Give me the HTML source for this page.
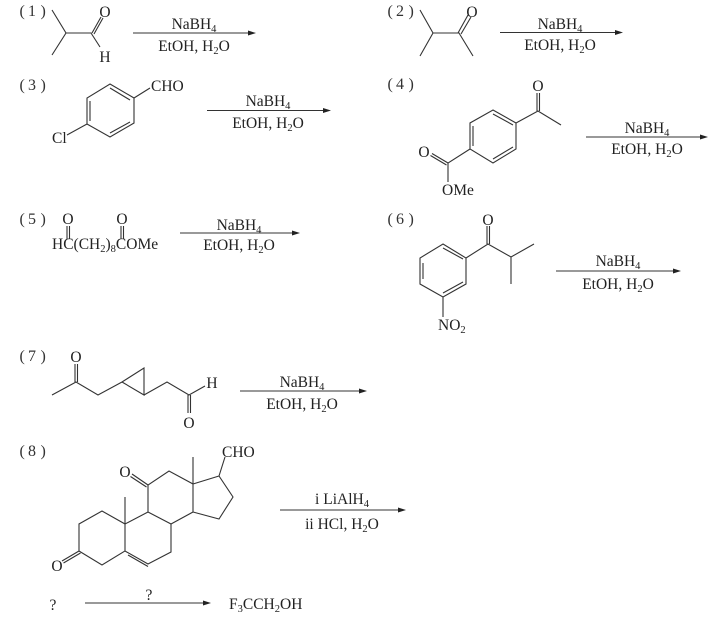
<!DOCTYPE html>
<html>
<head>
<meta charset="utf-8">
<style>
html,body{margin:0;padding:0;background:#fff;}
svg{display:block;}
text{font-family:"Liberation Serif","Noto Serif CJK SC",serif;font-size:15.5px;fill:#222;}
.m{text-anchor:middle;}
.n{font-size:16px;fill:#333;}
.s{font-size:10.5px;}
path,line{stroke:#333;stroke-width:1.1;fill:none;}
.a{fill:#222;stroke:none;}
</style>
</head>
<body>
<svg width="725" height="624" viewBox="0 0 725 624" xmlns="http://www.w3.org/2000/svg">
<!-- numbering -->
<text class="n" x="19.5 28 40.500" y="16">(1)</text>
<text class="n" x="387.500 396 408.500" y="16">(2)</text>
<text class="n" x="19.5 28 40.500" y="90">(3)</text>
<text class="n" x="387.500 396 408.500" y="89">(4)</text>
<text class="n" x="19.5 28 40.500" y="224">(5)</text>
<text class="n" x="387.500 396 408.500" y="224">(6)</text>
<text class="n" x="19.5 28 40.500" y="361">(7)</text>
<text class="n" x="19.5 28 40.500" y="456">(8)</text>

<!-- arrows -->
<path d="M133 33H250"/><path class="a" d="M256 33l-8-2.5v5z"/>
<path d="M500 32.500H617"/><path class="a" d="M623 32.500l-8-2.500v5z"/>
<path d="M207 110.500H325"/><path class="a" d="M331 110.500l-8-2.500v5z"/>
<path d="M586 137H702"/><path class="a" d="M708 137l-8-2.500v5z"/>
<path d="M180 233H294"/><path class="a" d="M300 233l-8-2.500v5z"/>
<path d="M556 271H675"/><path class="a" d="M681 271l-8-2.500v5z"/>
<path d="M240 391H361"/><path class="a" d="M367 391l-8-2.500v5z"/>
<path d="M280 510H400"/><path class="a" d="M406 510l-8-2.500v5z"/>
<path d="M85 603H205"/><path class="a" d="M211 603l-8-2.500v5z"/>

<!-- reagents -->
<text class="m" x="194" y="29">NaBH<tspan class="s" dy="3">4</tspan></text>
<text class="m" x="194" y="51">EtOH, H<tspan class="s" dy="3">2</tspan><tspan dy="-3">O</tspan></text>
<text class="m" x="560" y="29">NaBH<tspan class="s" dy="3">4</tspan></text>
<text class="m" x="560" y="50">EtOH, H<tspan class="s" dy="3">2</tspan><tspan dy="-3">O</tspan></text>
<text class="m" x="268" y="106">NaBH<tspan class="s" dy="3">4</tspan></text>
<text class="m" x="268" y="128">EtOH, H<tspan class="s" dy="3">2</tspan><tspan dy="-3">O</tspan></text>
<text class="m" x="647" y="133">NaBH<tspan class="s" dy="3">4</tspan></text>
<text class="m" x="647" y="154">EtOH, H<tspan class="s" dy="3">2</tspan><tspan dy="-3">O</tspan></text>
<text class="m" x="239" y="230">NaBH<tspan class="s" dy="3">4</tspan></text>
<text class="m" x="239" y="250">EtOH, H<tspan class="s" dy="3">2</tspan><tspan dy="-3">O</tspan></text>
<text class="m" x="618" y="266">NaBH<tspan class="s" dy="3">4</tspan></text>
<text class="m" x="618" y="289">EtOH, H<tspan class="s" dy="3">2</tspan><tspan dy="-3">O</tspan></text>
<text class="m" x="302" y="387">NaBH<tspan class="s" dy="3">4</tspan></text>
<text class="m" x="302" y="409">EtOH, H<tspan class="s" dy="3">2</tspan><tspan dy="-3">O</tspan></text>
<text class="m" x="342" y="504">i LiAlH<tspan class="s" dy="3">4</tspan></text>
<text class="m" x="342" y="529">ii HCl, H<tspan class="s" dy="3">2</tspan><tspan dy="-3">O</tspan></text>
<text class="m" x="149" y="600">?</text>
<text class="m" x="53" y="610">?</text>
<text x="229" y="609">F<tspan class="s" dy="3">3</tspan><tspan dy="-3">CCH</tspan><tspan class="s" dy="3">2</tspan><tspan dy="-3">OH</tspan></text>

<!-- molecule 1 -->
<path d="M52 10L66 33L52 55M66 33H91L100 47M92 33L101 17M94 34L103 18"/>
<text class="m" x="105" y="17">O</text>
<text class="m" x="105" y="62">H</text>

<!-- molecule 2 -->
<path d="M420 10L433 33L420 56M433 33H459L473 56M458 33L468 15M461 34L471 17"/>
<text class="m" x="472" y="17">O</text>

<!-- molecule 3 -->
<path d="M110 84L134 98V123L110 137L87 124V98ZM90 101V121M110 88L130 100M110 133L130 122M134 98L150 88M87 124L67 135"/>
<text x="151" y="91">CHO</text>
<text x="52" y="143">Cl</text>

<!-- molecule 4 -->
<path d="M493 110L516 123V149L493 163L470 149V123ZM473 126V146M493 114L513 125M493 159L513 147M516 123L538 111L561 125M537 111V93M539.500 111V93M470 149L448 163V182M448 163L432 153.500M446.500 165L430.500 155.500"/>
<text class="m" x="538" y="91">O</text>
<text class="m" x="424" y="157">O</text>
<text x="442" y="195">OMe</text>

<!-- molecule 5 -->
<text x="52" y="249">HC(CH<tspan class="s" dy="3">2</tspan><tspan dy="-3">)</tspan><tspan class="s" dy="3">8</tspan><tspan dy="-3">COMe</tspan></text>
<text class="m" x="68" y="224">O</text>
<text class="m" x="122" y="224">O</text>
<path d="M67 226V239M69.500 226V239M121 226V239M123.500 226V239"/>

<!-- molecule 6 -->
<path d="M443 244L466 258V284L443 297L420 284V258ZM423 263V279M443 248L463 259M443 293L463 282M466 258L488 244L511 257L534 244M511 257V284M487 244V226M489.500 244V226M443 297V317"/>
<text class="m" x="488" y="225">O</text>
<text x="438" y="330">NO<tspan class="s" dy="3">2</tspan></text>

<!-- molecule 7 -->
<path d="M52 395L76 382L98 395L122 382L144 368V395L122 382M144 395L167 382L189 395L205 386M75 382V364M77.500 382V364M188 395V413M190.500 395V413"/>
<text class="m" x="76" y="362">O</text>
<text class="m" x="189" y="428">O</text>
<text class="m" x="212" y="388">H</text>

<!-- molecule 8 -->
<path d="M79 551V524L102 511L125 524V551L102 565L79 551M125 524V497M125 524L148 512L171 524V552L148 564L125 551M128 555L148 566.500M148 512V485L169 471L193 484V512L171 524M148 485L132 474M146.500 487L130.500 476.500M193 484V457M193 484L219 476L233 497L219 519L193 512M219 476L225 457M79 551L62 561M80.500 553L63.500 563"/>
<text class="m" x="57" y="571">O</text>
<text class="m" x="125" y="477">O</text>
<text x="222" y="457">CHO</text>
</svg>
</body>
</html>
